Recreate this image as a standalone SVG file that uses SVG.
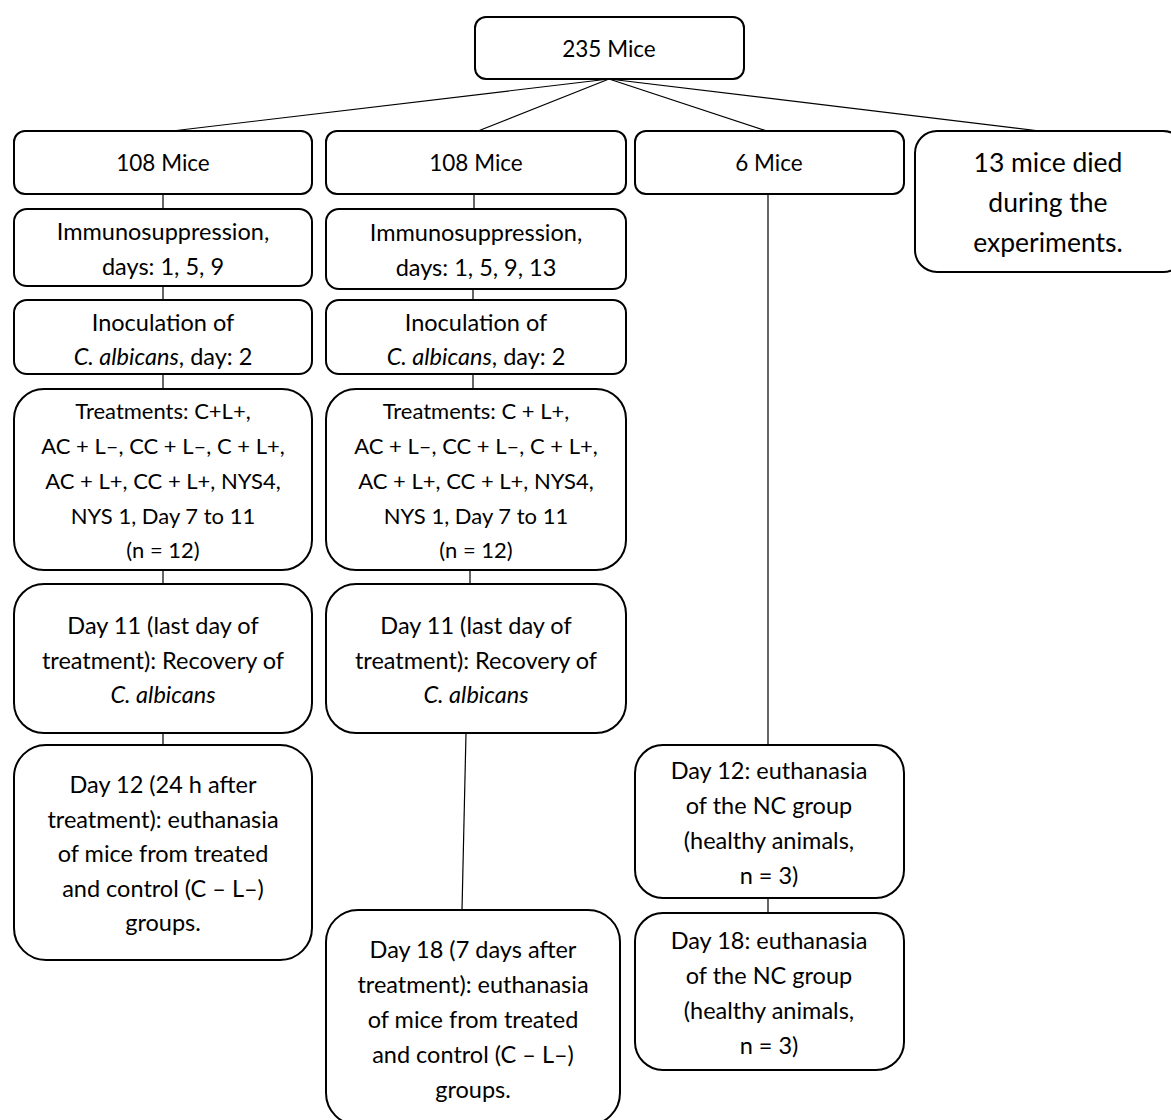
<svg xmlns="http://www.w3.org/2000/svg" width="1171" height="1120" viewBox="0 0 1171 1120">
<style>
.b{fill:#fff;stroke:#000;stroke-width:2}
.t{font-family:Lato,"Liberation Sans",sans-serif;font-size:23.5px;fill:#000;text-anchor:middle}
.s{font-family:Lato,"Liberation Sans",sans-serif;font-size:22.5px;fill:#000;text-anchor:middle}
.r{font-family:Lato,"Liberation Sans",sans-serif;font-size:22px;fill:#000;text-anchor:middle}
.l{font-family:Lato,"Liberation Sans",sans-serif;font-size:26.5px;fill:#000;text-anchor:middle}
.c{stroke:#000;stroke-width:1.2;fill:none}
</style>
<rect width="1171" height="1120" fill="#fff"/>
<g id="connectors">
<line class="c" x1="609" y1="79" x2="172" y2="131"/>
<line class="c" x1="609" y1="79" x2="478" y2="131"/>
<line class="c" x1="609" y1="79" x2="767" y2="131"/>
<line class="c" x1="609" y1="79" x2="1040" y2="131"/>
<line class="c" x1="163" y1="194" x2="163" y2="209"/>
<line class="c" x1="163" y1="286" x2="163" y2="300"/>
<line class="c" x1="163" y1="374" x2="163" y2="389"/>
<line class="c" x1="163" y1="570" x2="163" y2="584"/>
<line class="c" x1="163" y1="733" x2="163" y2="745"/>
<line class="c" x1="474" y1="194" x2="474" y2="209"/>
<line class="c" x1="473" y1="289" x2="473" y2="300"/>
<line class="c" x1="473" y1="374" x2="473" y2="389"/>
<line class="c" x1="470" y1="570" x2="470" y2="584"/>
<line class="c" x1="466" y1="733" x2="462" y2="910"/>
<line class="c" x1="768" y1="194" x2="768" y2="745"/>
<line class="c" x1="768" y1="898" x2="768" y2="913"/>
</g>
<g id="n0"><rect class="b" x="475" y="17" width="269" height="62" rx="11"/><text class="s" x="609" y="57">235 Mice</text></g>
<g id="n1"><rect class="b" x="14" y="131" width="298" height="63" rx="11"/><text class="s" x="163" y="171">108 Mice</text></g>
<g id="n2"><rect class="b" x="326" y="131" width="300" height="63" rx="11"/><text class="s" x="476" y="171">108 Mice</text></g>
<g id="n3"><rect class="b" x="635" y="131" width="269" height="63" rx="11"/><text class="s" x="769" y="171">6 Mice</text></g>
<g id="n4"><rect class="b" x="915" y="131" width="270" height="141" rx="22"/><text class="l" x="1048" y="172">13 mice died</text><text class="l" x="1048" y="212">during the</text><text class="l" x="1048" y="252">experiments.</text></g>
<g id="n5"><rect class="b" x="14" y="209" width="298" height="77" rx="13"/><text class="t" x="163" y="240">Immunosuppression,</text><text class="t" x="163" y="275">days: 1, 5, 9</text></g>
<g id="n6"><rect class="b" x="326" y="209" width="300" height="80" rx="13"/><text class="t" x="476" y="241">Immunosuppression,</text><text class="t" x="476" y="276">days: 1, 5, 9, 13</text></g>
<g id="n7"><rect class="b" x="14" y="300" width="298" height="74" rx="13"/><text class="t" x="163" y="331">Inoculation of</text><text class="t" x="163" y="365"><tspan font-style="italic">C. albicans</tspan>, day: 2</text></g>
<g id="n8"><rect class="b" x="326" y="300" width="300" height="74" rx="13"/><text class="t" x="476" y="331">Inoculation of</text><text class="t" x="476" y="365"><tspan font-style="italic">C. albicans</tspan>, day: 2</text></g>
<g id="n9"><rect class="b" x="14" y="389" width="298" height="181" rx="30"/><text class="r" x="163" y="419">Treatments: C+L+,</text><text class="r" x="163" y="454">AC + L–, CC + L–, C + L+,</text><text class="r" x="163" y="489">AC + L+, CC + L+, NYS4,</text><text class="r" x="163" y="524">NYS 1, Day 7 to 11</text><text class="r" x="163" y="558">(n = 12)</text></g>
<g id="n10"><rect class="b" x="326" y="389" width="300" height="181" rx="30"/><text class="r" x="476" y="419">Treatments: C + L+,</text><text class="r" x="476" y="454">AC + L–, CC + L–, C + L+,</text><text class="r" x="476" y="489">AC + L+, CC + L+, NYS4,</text><text class="r" x="476" y="524">NYS 1, Day 7 to 11</text><text class="r" x="476" y="558">(n = 12)</text></g>
<g id="n11"><rect class="b" x="14" y="584" width="298" height="149" rx="30"/><text class="t" x="163" y="634">Day 11 (last day of</text><text class="t" x="163" y="669">treatment): Recovery of</text><text class="t" x="163" y="703" font-style="italic">C. albicans</text></g>
<g id="n12"><rect class="b" x="326" y="584" width="300" height="149" rx="30"/><text class="t" x="476" y="634">Day 11 (last day of</text><text class="t" x="476" y="669">treatment): Recovery of</text><text class="t" x="476" y="703" font-style="italic">C. albicans</text></g>
<g id="n13"><rect class="b" x="14" y="745" width="298" height="215" rx="32"/><text class="t" x="163" y="793">Day 12 (24 h after</text><text class="t" x="163" y="828">treatment): euthanasia</text><text class="t" x="163" y="862">of mice from treated</text><text class="t" x="163" y="897">and control (C – L–)</text><text class="t" x="163" y="931">groups.</text></g>
<g id="n14"><rect class="b" x="326" y="910" width="294" height="215" rx="32"/><text class="t" x="473" y="958">Day 18 (7 days after</text><text class="t" x="473" y="993">treatment): euthanasia</text><text class="t" x="473" y="1028">of mice from treated</text><text class="t" x="473" y="1063">and control (C – L–)</text><text class="t" x="473" y="1098">groups.</text></g>
<g id="n15"><rect class="b" x="635" y="745" width="269" height="153" rx="28"/><text class="t" x="769" y="779">Day 12: euthanasia</text><text class="t" x="769" y="814">of the NC group</text><text class="t" x="769" y="849">(healthy animals,</text><text class="t" x="769" y="884">n = 3)</text></g>
<g id="n16"><rect class="b" x="635" y="913" width="269" height="157" rx="28"/><text class="t" x="769" y="949">Day 18: euthanasia</text><text class="t" x="769" y="984">of the NC group</text><text class="t" x="769" y="1019">(healthy animals,</text><text class="t" x="769" y="1054">n = 3)</text></g>
</svg>
